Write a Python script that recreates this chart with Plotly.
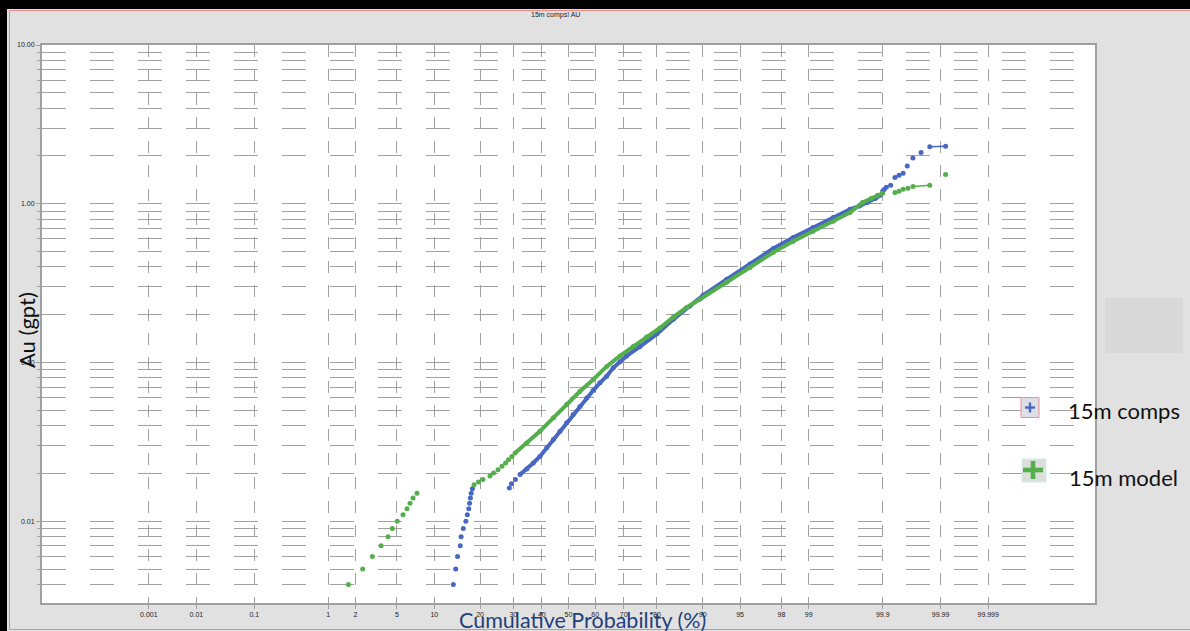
import plotly.graph_objects as go
from statistics import NormalDist

# ---------------- data: cumulative probability (%) vs Au grade (g/t) ----------------
# 15m composites
comps_low_pct = [13.6, 14.1, 14.5, 15.1, 15.3, 15.8, 16.4, 16.75, 17.1, 17.3, 17.5, 17.7, 18.0,
                 28.7, 29.4, 30.7]
comps_low_au = [0.004, 0.005, 0.006, 0.007, 0.008, 0.009, 0.010, 0.011, 0.012, 0.013, 0.014, 0.015, 0.016,
                0.0162, 0.0172, 0.0183]
comps_body_pct = [32.25, 34.57, 36.9, 39.3, 41.8, 44.27, 46.77, 49.32, 51.8, 54.35, 56.87, 59.31,
                  61.75, 64.16, 66.47, 68.76, 70.98, 75.17, 79.95, 84.11, 87.7, 90.11, 93.5, 95.93,
                  97.57, 98.5, 99.11, 99.5, 99.7, 99.78, 99.83, 99.87, 99.89]
comps_body_au = [0.0197, 0.0213, 0.0233, 0.0256, 0.029, 0.0327, 0.0369, 0.0417, 0.0470, 0.0528, 0.0598, 0.0668,
                 0.0745, 0.082, 0.0925, 0.101, 0.110, 0.126, 0.151, 0.187, 0.227, 0.266, 0.334, 0.418,
                 0.522, 0.612, 0.708, 0.818, 0.923, 0.968, 1.018, 1.078, 1.131]
comps_high_pct = [99.90, 99.905, 99.912, 99.925, 99.936, 99.945, 99.953, 99.960, 99.968, 99.977]
comps_high_au = [1.205, 1.23, 1.27, 1.308, 1.463, 1.513, 1.557, 1.732, 1.945, 2.104]
comps_top_pct = [99.984, 99.992]
comps_top_au = [2.282, 2.306]
comps_max_pct = [99.9999992]
comps_max_au = [3.03]

# 15m block model
model_low_pct = [1.68, 2.37, 2.96, 3.59, 4.16, 4.55, 5.03, 5.64, 6.09, 6.46, 6.83, 7.35,
                 18.41, 19.57, 20.78, 22.75, 23.79, 25.11, 26.34, 27.46, 28.4, 29.53]
model_low_au = [0.004, 0.005, 0.006, 0.007, 0.008, 0.009, 0.010, 0.011, 0.012, 0.013, 0.014, 0.015,
                0.0170, 0.0177, 0.0183, 0.0193, 0.0201, 0.0211, 0.0222, 0.0233, 0.0244, 0.0256]
model_body_pct = [30.57, 34.57, 39.3, 44.27, 49.32, 54.35, 59.31, 64.16, 68.76, 73.1, 77.15, 80.81,
                  84.11, 87.01, 89.54, 93.5, 95.93, 97.57, 98.5, 99.11, 99.5, 99.7, 99.8, 99.85,
                  99.88, 99.9]
model_body_au = [0.0269, 0.0311, 0.0369, 0.0448, 0.0543, 0.0659, 0.0781, 0.0945, 0.110, 0.126, 0.145, 0.165,
                 0.193, 0.222, 0.250, 0.320, 0.396, 0.494, 0.580, 0.671, 0.776, 0.880, 1.018, 1.078,
                 1.131, 1.165]
model_high_pct = [99.936, 99.945, 99.953, 99.961]
model_high_au = [1.177, 1.199, 1.235, 1.253]
model_top_pct = [99.968, 99.984]
model_top_au = [1.284, 1.308]
model_tail_pct = [99.992, 99.9999992]
model_tail_au = [1.528, 2.198]

prob_ticks = ["0.001", "0.01", "0.1", "1", "2", "5", "10", "20", "30", "40", "50", "60", "70",
              "80", "90", "95", "98", "99", "99.9", "99.99", "99.999"]
au_ticks = [0.01, 0.1, 1, 10]
au_tick_text = ["0.01", "0.10", "1.00", "10.00"]

# ---------------- probability scale ----------------
_nd = NormalDist()


def prob_axis(pct):
    """Normal-score position of a cumulative percentage, slightly compressed in the tails."""
    z = _nd.inv_cdf(pct / 100.0)
    return z * (1.0 - 0.0036 * z * z)


def to_axis(pcts):
    return [prob_axis(p) for p in pcts]


# ---------------- page geometry helpers ----------------
W, H = 1190, 631
PL, PR, PT, PB = 42, 1095, 45, 603


def fx(x):
    return (x - PL) / (PR - PL)


def fy(y):
    return (PB - y) / (PB - PT)


BLUE = "#4767c3"
GREEN = "#55ae4c"
GRID = "#a0a0a0"
MS = 5

fig = go.Figure()


def add_part(pcts, vals, color, name, mode="markers", width=0):
    fig.add_trace(go.Scatter(
        x=to_axis(pcts), y=vals, mode=mode, name=name, showlegend=False,
        marker=dict(color=color, size=MS),
        line=dict(color=color, width=width),
        cliponaxis=False,
    ))


add_part(comps_low_pct, comps_low_au, BLUE, "15m comps")
add_part(comps_body_pct, comps_body_au, BLUE, "15m comps", "lines+markers", 4)
add_part(comps_high_pct, comps_high_au, BLUE, "15m comps")
add_part(comps_top_pct, comps_top_au, BLUE, "15m comps", "lines+markers", 1.5)
add_part(comps_max_pct, comps_max_au, BLUE, "15m comps")

add_part(model_low_pct, model_low_au, GREEN, "15m model")
add_part(model_body_pct, model_body_au, GREEN, "15m model", "lines+markers", 4)
add_part(model_high_pct, model_high_au, GREEN, "15m model")
add_part(model_top_pct, model_top_au, GREEN, "15m model", "lines+markers", 1.5)
add_part(model_tail_pct, model_tail_au, GREEN, "15m model")

minor_vals = [k * 10.0 ** e for e in (-3, -2, -1, 0) for k in range(2, 10)]


def rect(x0, y0, x1, y1, fill, line=None, lw=0, layer="above"):
    return dict(type="rect", xref="paper", yref="paper",
                x0=fx(x0), x1=fx(x1), y0=fy(y1), y1=fy(y0),
                fillcolor=fill, line=dict(color=line or fill, width=lw), layer=layer)


shapes = [
    # window frame
    rect(0, 0, W, 9, "black"),
    rect(0, 0, 7, H, "black"),
    dict(type="rect", xref="paper", yref="paper", x0=fx(9.5), x1=fx(W + 5), y0=fy(629.5), y1=fy(10.5),
         line=dict(color="#e98a8a", width=1), fillcolor="rgba(0,0,0,0)"),
    rect(1105, 298, 1183, 353, "#d8d8d8"),
    # legend keys
    rect(1021, 397.5, 1039, 417.5, "#dedee6", "#ef8f8f", 1),
    rect(1025, 406.3, 1035, 408.7, BLUE),
    rect(1028.8, 402.5, 1031.2, 412.5, BLUE),
    rect(1022, 459, 1046, 482, "#dcdedc", "#cdeeee", 1),
    rect(1023, 467.7, 1043, 472.3, GREEN),
    rect(1030.7, 461, 1035.3, 479, GREEN),
]


def label(text, x, y, size, color="#111", family="Lato", xanchor="center", angle=0):
    return dict(text=text, xref="paper", yref="paper", x=fx(x), y=fy(y), textangle=angle,
                xanchor=xanchor, yanchor="middle", showarrow=False,
                font=dict(family=family, size=size, color=color))


annotations = [
    label("15m comps! AU", 555, 15, 7, "#222", "Liberation Sans"),
    label("Au (gpt)", 26, 330, 22, angle=-90),
    label("Cumulative Probability (%)", 582, 620, 21.5, "#1f3f7c"),
    label("15m comps", 1066, 410, 22, xanchor="left"),
    label("15m model", 1067, 477, 22, xanchor="left"),
]

fig.update_layout(
    width=W, height=H,
    margin=dict(l=PL, r=W - PR, t=PT, b=H - PB, pad=0),
    paper_bgcolor="#e1e1e1", plot_bgcolor="white",
    showlegend=False,
    shapes=shapes, annotations=annotations,
    xaxis=dict(
        range=[-5, 5], tickmode="array",
        tickvals=[prob_axis(float(t)) for t in prob_ticks], ticktext=prob_ticks,
        showgrid=True, gridcolor=GRID, gridwidth=1.2, griddash="12px,12px",
        zeroline=False, showline=True, linecolor="#a0a0a0", linewidth=2, mirror=True,
        ticks="outside", ticklen=4, tickcolor="#a0a0a0",
        tickfont=dict(family="Liberation Sans", size=7, color="#222"),
        automargin=False,
    ),
    yaxis=dict(
        type="log", range=[-2.515, 1.0], tickmode="array",
        tickvals=au_ticks, ticktext=au_tick_text,
        showgrid=True, gridcolor=GRID, gridwidth=1, griddash="24px,24px",
        zeroline=False, showline=True, linecolor="#a0a0a0", linewidth=2, mirror=True,
        ticks="outside", ticklen=4, tickcolor="#a0a0a0",
        tickfont=dict(family="Liberation Sans", size=7, color="#222"),
        minor=dict(tickmode="array", tickvals=minor_vals, showgrid=True, gridcolor=GRID,
                   gridwidth=1, griddash="24px,24px", ticks="outside", ticklen=3, tickcolor="#a0a0a0"),
        automargin=False,
    ),
)

fig.write_html("out.html")
